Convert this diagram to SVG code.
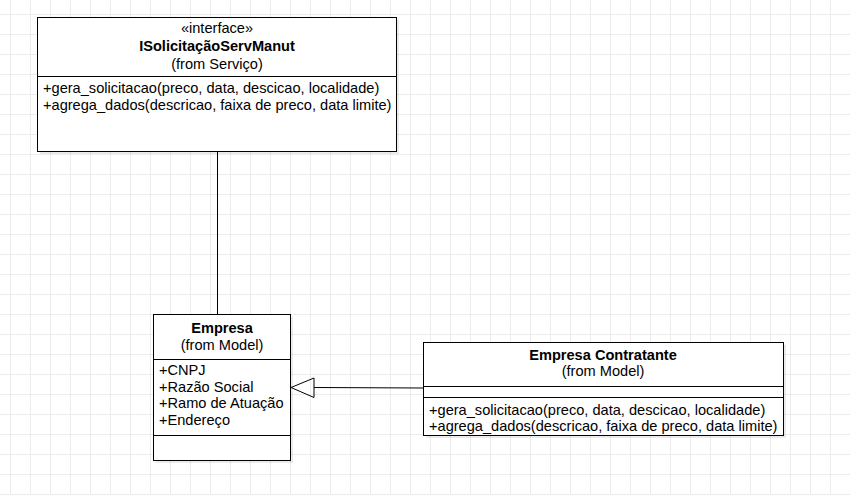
<svg xmlns="http://www.w3.org/2000/svg" width="850" height="495" viewBox="0 0 850 495">
  <defs>
    <pattern id="grid" x="10" y="14" width="20" height="20" patternUnits="userSpaceOnUse">
      <path d="M0 0.5 H20 M0.5 0 V20" fill="none" stroke="#ececec" stroke-width="1"/>
    </pattern>
  </defs>
  <style>
    .box { fill: #ffffff; stroke: #000000; stroke-width: 1; }
    .shadow { fill: #000000; fill-opacity: 0.08; }
    .sep { stroke: #000000; stroke-width: 1; }
    .t { font-family: "Liberation Sans", Arial, sans-serif; font-size: 14.6px; fill: #000000; }
    .c { text-anchor: middle; }
    .b { font-weight: bold; }
    .edge { fill: none; stroke: #000000; stroke-width: 1; }
  </style>
  <rect width="850" height="495" fill="#ffffff"/>
  <rect width="850" height="495" fill="url(#grid)"/>

  <g id="connectors">
    <line class="edge" x1="217.5" y1="151.5" x2="217.5" y2="314.5"/>
    <line class="edge" x1="423.5" y1="388" x2="314" y2="387.5"/>
    <polygon class="edge" points="314,378 314,397.5 291,387.5"/>
  </g>

  <g id="ISolicitacaoServManut">
    <rect class="shadow" x="40" y="20" width="359" height="134"/>
    <rect class="box" x="37.5" y="17.5" width="359" height="134"/>
    <line class="sep" x1="37.5" y1="76.5" x2="396.5" y2="76.5"/>
    <text class="t c" x="217" y="32.5">«interface»</text>
    <text class="t c b" x="217" y="51">ISolicitaçãoServManut</text>
    <text class="t c" x="217" y="68.5">(from Serviço)</text>
    <text class="t" x="43" y="93">+gera_solicitacao(preco, data, descicao, localidade)</text>
    <text class="t" x="43" y="110">+agrega_dados(descricao, faixa de preco, data limite)</text>
  </g>

  <g id="Empresa">
    <rect class="shadow" x="156" y="317" width="137" height="146"/>
    <rect class="box" x="153.5" y="314.5" width="137" height="146"/>
    <line class="sep" x1="153.5" y1="359.5" x2="290.5" y2="359.5"/>
    <line class="sep" x1="153.5" y1="435.5" x2="290.5" y2="435.5"/>
    <text class="t c b" x="222" y="333">Empresa</text>
    <text class="t c" x="222" y="350">(from Model)</text>
    <text class="t" x="159" y="375">+CNPJ</text>
    <text class="t" x="159" y="391.5">+Razão Social</text>
    <text class="t" x="159" y="408">+Ramo de Atuação</text>
    <text class="t" x="159" y="425">+Endereço</text>
  </g>

  <g id="EmpresaContratante">
    <rect class="shadow" x="426" y="345" width="360" height="93"/>
    <rect class="box" x="423.5" y="342.5" width="360" height="93"/>
    <line class="sep" x1="423.5" y1="386.5" x2="783.5" y2="386.5"/>
    <line class="sep" x1="423.5" y1="397.5" x2="783.5" y2="397.5"/>
    <text class="t c b" x="603" y="360">Empresa Contratante</text>
    <text class="t c" x="603" y="376">(from Model)</text>
    <text class="t" x="429" y="414.5">+gera_solicitacao(preco, data, descicao, localidade)</text>
    <text class="t" x="429" y="431">+agrega_dados(descricao, faixa de preco, data limite)</text>
  </g>
</svg>
